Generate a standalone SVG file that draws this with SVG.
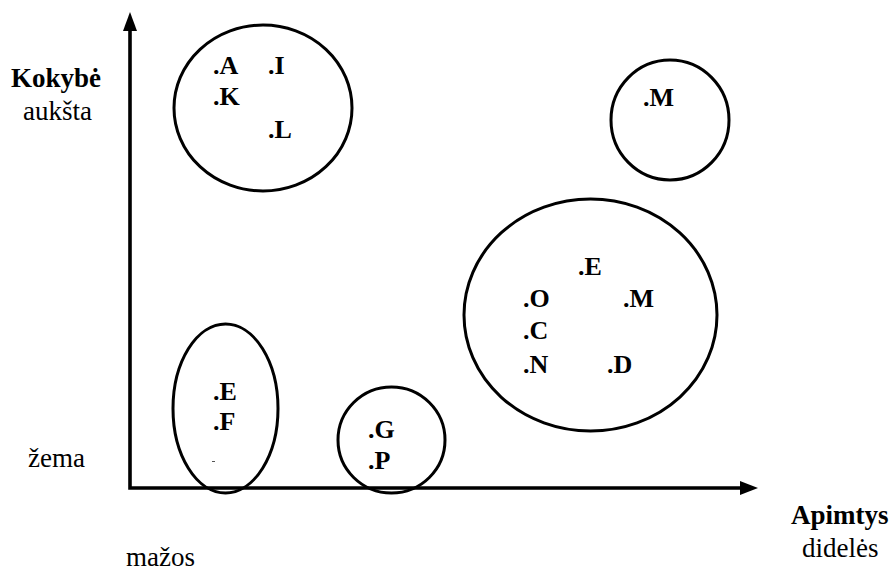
<svg xmlns="http://www.w3.org/2000/svg" width="892" height="571" viewBox="0 0 892 571">
<style>
.c{fill:none;stroke:#000;stroke-width:3}
.ax{stroke:#000;stroke-width:3.6;fill:none}
</style>
<g id="axes">
<polyline class="ax" points="130,28 130,488 742,488"/>
<path d="M123,31 L130,12 L137,31 z" fill="#000"/>
<path d="M740,481 L758,488 L740,495 z" fill="#000"/>
</g>
<g id="labels" fill="#000">
<text style="font-family:'Liberation Serif',serif;font-size:27px;font-weight:bold" x="11" y="87">Kokybė</text>
<text style="font-family:'Liberation Serif',serif;font-size:27px" x="23" y="120">aukšta</text>
<text style="font-family:'Liberation Serif',serif;font-size:27px" x="28" y="467">žema</text>
<text style="font-family:'Liberation Serif',serif;font-size:27px" x="126" y="566">mažos</text>
<text style="font-family:'Liberation Serif',serif;font-size:27px;font-weight:bold" x="791" y="524">Apimtys</text>
<text style="font-family:'Liberation Serif',serif;font-size:27px" x="802" y="557">didelės</text>
</g>
<g id="cluster-AIKL">
<ellipse class="c" cx="263" cy="108" rx="89" ry="83"/>
<text style="font-family:'Liberation Serif',serif;font-size:26px;font-weight:bold" x="213" y="74">.A</text>
<text style="font-family:'Liberation Serif',serif;font-size:26px;font-weight:bold" x="268" y="74">.I</text>
<text style="font-family:'Liberation Serif',serif;font-size:26px;font-weight:bold" x="213" y="105">.K</text>
<text style="font-family:'Liberation Serif',serif;font-size:26px;font-weight:bold" x="268" y="138">.L</text>
</g>
<g id="cluster-M">
<ellipse class="c" cx="670" cy="120" rx="59" ry="60"/>
<text style="font-family:'Liberation Serif',serif;font-size:26px;font-weight:bold" x="643" y="106">.M</text>
</g>
<g id="cluster-EOMCND">
<ellipse class="c" cx="590.5" cy="315" rx="126.5" ry="116"/>
<text style="font-family:'Liberation Serif',serif;font-size:26px;font-weight:bold" x="578" y="275">.E</text>
<text style="font-family:'Liberation Serif',serif;font-size:26px;font-weight:bold" x="523" y="307">.O</text>
<text style="font-family:'Liberation Serif',serif;font-size:26px;font-weight:bold" x="623" y="307">.M</text>
<text style="font-family:'Liberation Serif',serif;font-size:26px;font-weight:bold" x="523" y="339">.C</text>
<text style="font-family:'Liberation Serif',serif;font-size:26px;font-weight:bold" x="523" y="373">.N</text>
<text style="font-family:'Liberation Serif',serif;font-size:26px;font-weight:bold" x="607" y="373">.D</text>
</g>
<g id="cluster-EF">
<ellipse class="c" cx="225.5" cy="408.5" rx="52.5" ry="84.5"/>
<text style="font-family:'Liberation Serif',serif;font-size:26px;font-weight:bold" x="213" y="400">.E</text>
<text style="font-family:'Liberation Serif',serif;font-size:26px;font-weight:bold" x="213" y="430">.F</text>
<rect x="212" y="461" width="3" height="1" fill="#555"/>
</g>
<g id="cluster-GP">
<ellipse class="c" cx="391.5" cy="440" rx="53.5" ry="53"/>
<text style="font-family:'Liberation Serif',serif;font-size:26px;font-weight:bold" x="368" y="438">.G</text>
<text style="font-family:'Liberation Serif',serif;font-size:26px;font-weight:bold" x="368" y="469">.P</text>
</g>
</svg>
